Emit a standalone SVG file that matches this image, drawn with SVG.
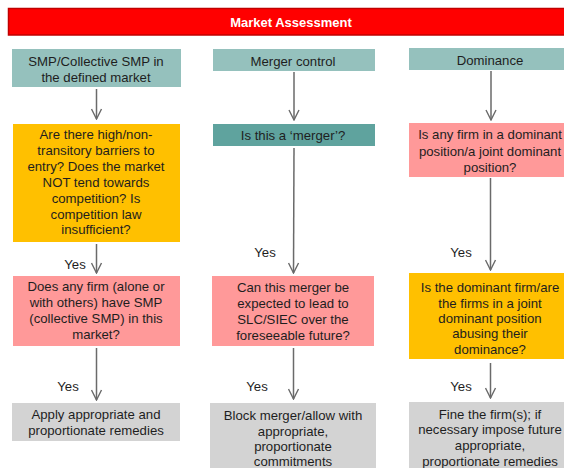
<svg xmlns="http://www.w3.org/2000/svg" width="564" height="468" viewBox="0 0 564 468">
  <style>
    text { font-family: "Liberation Sans", Arial, sans-serif; font-size: 13.2px; fill: #1e1e1e; text-anchor: middle; }
    .title { fill: #ffffff; font-weight: bold; font-size: 13px; }
    .head { fill: #95c1bd; }
    .teal { fill: #5fa39e; }
    .pink { fill: #ff9999; }
    .amber { fill: #ffc000; }
    .grey { fill: #d3d3d3; }
    .edge { stroke: #6a6a6a; stroke-width: 1.5; fill: none; marker-end: url(#arrow); }
    .yes { text-anchor: middle; }
  </style>
  <defs>
    <marker id="arrow" viewBox="0 0 12 12" refX="11" refY="6" markerWidth="12" markerHeight="12" markerUnits="userSpaceOnUse" orient="auto">
      <path d="M1,1 L11,6 L1,11" fill="none" stroke="#6a6a6a" stroke-width="1.4"/>
    </marker>
  </defs>

  <rect width="564" height="468" fill="#ffffff"/>

  <g id="title">
    <rect x="8.5" y="8.5" width="562" height="26.5" fill="#ff0000" stroke="#c00000" stroke-width="1.5"/>
    <text class="title" x="291" y="27">Market Assessment</text>
  </g>

  <!-- column 1: SMP -->
  <g id="smp-head">
    <rect class="head" x="12" y="49" width="169" height="38"/>
    <text x="96" y="66">SMP/Collective SMP in</text>
    <text x="96" y="82">the defined market</text>
  </g>
  <g id="smp-barriers">
    <rect class="amber" x="13" y="124" width="167" height="118"/>
    <text x="96" y="139">Are there high/non-</text>
    <text x="96" y="155">transitory barriers to</text>
    <text x="96" y="171">entry? Does the market</text>
    <text x="96" y="187">NOT tend towards</text>
    <text x="96" y="203">competition? Is</text>
    <text x="96" y="219">competition law</text>
    <text x="96" y="234">insufficient?</text>
  </g>
  <g id="smp-question">
    <rect class="pink" x="13" y="276" width="167" height="70"/>
    <text x="96" y="291">Does any firm (alone or</text>
    <text x="96" y="307">with others) have SMP</text>
    <text x="96" y="323">(collective SMP) in this</text>
    <text x="96" y="339">market?</text>
  </g>
  <g id="smp-remedy">
    <rect class="grey" x="12" y="403" width="168" height="38"/>
    <text x="96" y="419">Apply appropriate and</text>
    <text x="96" y="435">proportionate remedies</text>
  </g>

  <!-- column 2: merger control -->
  <g id="merger-head">
    <rect class="head" x="213" y="49" width="162" height="22"/>
    <text x="293" y="65.5">Merger control</text>
  </g>
  <g id="merger-test">
    <rect class="teal" x="213" y="124" width="162" height="22"/>
    <text x="293" y="139.5">Is this a ‘merger’?</text>
  </g>
  <g id="merger-question">
    <rect class="pink" x="212" y="276" width="162" height="70"/>
    <text x="293" y="291.5">Can this merger be</text>
    <text x="293" y="307.5">expected to lead to</text>
    <text x="293" y="323.5">SLC/SIEC over the</text>
    <text x="293" y="339.5">foreseeable future?</text>
  </g>
  <g id="merger-remedy">
    <rect class="grey" x="210" y="403" width="166" height="70"/>
    <text x="293" y="419.5">Block merger/allow with</text>
    <text x="293" y="435.5">appropriate,</text>
    <text x="293" y="451">proportionate</text>
    <text x="293" y="466">commitments</text>
  </g>

  <!-- column 3: dominance -->
  <g id="dominance-head">
    <rect class="head" x="409" y="48" width="160" height="22"/>
    <text x="490" y="64.5">Dominance</text>
  </g>
  <g id="dominance-question">
    <rect class="pink" x="409" y="123" width="160" height="54"/>
    <text x="490" y="139">Is any firm in a dominant</text>
    <text x="490" y="155.5">position/a joint dominant</text>
    <text x="490" y="171.5">position?</text>
  </g>
  <g id="dominance-abuse">
    <rect class="amber" x="409" y="273" width="160" height="86"/>
    <text x="490" y="292">Is the dominant firm/are</text>
    <text x="490" y="307.5">the firms in a joint</text>
    <text x="490" y="323">dominant position</text>
    <text x="490" y="338">abusing their</text>
    <text x="490" y="353.5">dominance?</text>
  </g>
  <g id="dominance-remedy">
    <rect class="grey" x="409" y="402" width="160" height="70"/>
    <text x="490" y="419">Fine the firm(s); if</text>
    <text x="490" y="434">necessary impose future</text>
    <text x="490" y="449.5">appropriate,</text>
    <text x="490" y="465.5">proportionate remedies</text>
  </g>

  <g id="connectors">
    <line class="edge" x1="96.5" y1="89" x2="96.5" y2="119"/>
    <line class="edge" x1="96.5" y1="244" x2="96.5" y2="273"/>
    <line class="edge" x1="96.5" y1="348" x2="96.5" y2="400"/>

    <line class="edge" x1="294" y1="72" x2="294" y2="120"/>
    <line class="edge" x1="294" y1="148" x2="293.5" y2="273"/>
    <line class="edge" x1="293.5" y1="348" x2="293.5" y2="399"/>

    <line class="edge" x1="491" y1="71" x2="491" y2="120"/>
    <line class="edge" x1="490.5" y1="178" x2="490.5" y2="270"/>
    <line class="edge" x1="490.5" y1="363" x2="490.5" y2="398"/>

    <text class="yes" x="75" y="269">Yes</text>
    <text class="yes" x="68" y="390.5">Yes</text>
    <text class="yes" x="265" y="256.5">Yes</text>
    <text class="yes" x="257" y="390.5">Yes</text>
    <text class="yes" x="461" y="256.5">Yes</text>
    <text class="yes" x="461" y="390.5">Yes</text>
  </g>
</svg>
